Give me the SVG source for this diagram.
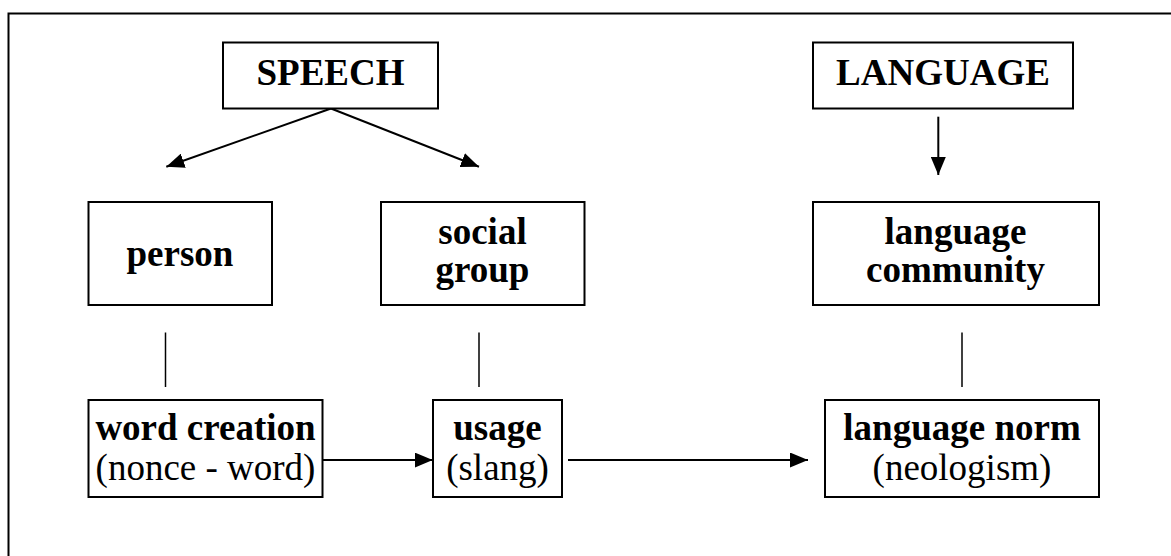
<svg xmlns="http://www.w3.org/2000/svg" width="1171" height="556" viewBox="0 0 1171 556">
  <style>
    .box { fill: #fff; stroke: #000; stroke-width: 2; }
    .b { font-family: "Liberation Serif", "Times New Roman", serif; font-weight: bold; font-size: 37px; text-anchor: middle; fill: #000; }
    .r { font-family: "Liberation Serif", "Times New Roman", serif; font-size: 37px; text-anchor: middle; fill: #000; }
    .arrow { stroke: #000; stroke-width: 2; fill: none; marker-end: url(#head); }
    .link { stroke: #000; stroke-width: 1.5; fill: none; }
  </style>
  <defs>
    <marker id="head" markerUnits="userSpaceOnUse" markerWidth="18" markerHeight="15" refX="18" refY="7.5" orient="auto">
      <path d="M0,0 L18,7.5 L0,15 Z" fill="#000"/>
    </marker>
  </defs>
  <rect width="1171" height="556" fill="#fff"/>
  <rect x="8.5" y="13.5" width="1180" height="560" fill="none" stroke="#000" stroke-width="2"/>

  <g id="connectors">
    <line class="arrow" x1="331" y1="108.5" x2="166.3" y2="166.7"/>
    <line class="arrow" x1="331" y1="108.5" x2="479" y2="166.7"/>
    <line class="arrow" x1="938.3" y1="116.7" x2="938.3" y2="175"/>
    <line class="link" x1="165.5" y1="332.5" x2="165.5" y2="387"/>
    <line class="link" x1="479" y1="332.5" x2="479" y2="387"/>
    <line class="link" x1="962" y1="332.5" x2="962" y2="387"/>
    <line class="arrow" x1="322.7" y1="460" x2="432.7" y2="460"/>
    <line class="arrow" x1="568" y1="460" x2="808" y2="460"/>
  </g>

  <g id="speech">
    <rect class="box" x="223" y="42.5" width="215" height="66"/>
    <text class="b" x="330.5" y="85">SPEECH</text>
  </g>
  <g id="language">
    <rect class="box" x="813" y="42.5" width="260" height="66"/>
    <text class="b" x="943" y="85">LANGUAGE</text>
  </g>
  <g id="person">
    <rect class="box" x="88.5" y="202" width="183.5" height="103"/>
    <text class="b" x="180" y="266">person</text>
  </g>
  <g id="social-group">
    <rect class="box" x="381" y="202" width="203.5" height="103"/>
    <text class="b" x="482.5" y="243.5">social</text>
    <text class="b" x="482.5" y="281.5">group</text>
  </g>
  <g id="language-community">
    <rect class="box" x="813" y="202" width="286" height="103"/>
    <text class="b" x="955.5" y="243.5">language</text>
    <text class="b" x="955.5" y="281.5">community</text>
  </g>
  <g id="word-creation">
    <rect class="box" x="88.5" y="400" width="234" height="97"/>
    <text class="b" x="205.5" y="440">word creation</text>
    <text class="r" x="205.5" y="479.5">(nonce - word)</text>
  </g>
  <g id="usage">
    <rect class="box" x="433" y="400" width="129" height="97"/>
    <text class="b" x="497.5" y="440">usage</text>
    <text class="r" x="497.5" y="479.5">(slang)</text>
  </g>
  <g id="language-norm">
    <rect class="box" x="825" y="400" width="274" height="97"/>
    <text class="b" x="962" y="440">language norm</text>
    <text class="r" x="962" y="479.5">(neologism)</text>
  </g>
</svg>
